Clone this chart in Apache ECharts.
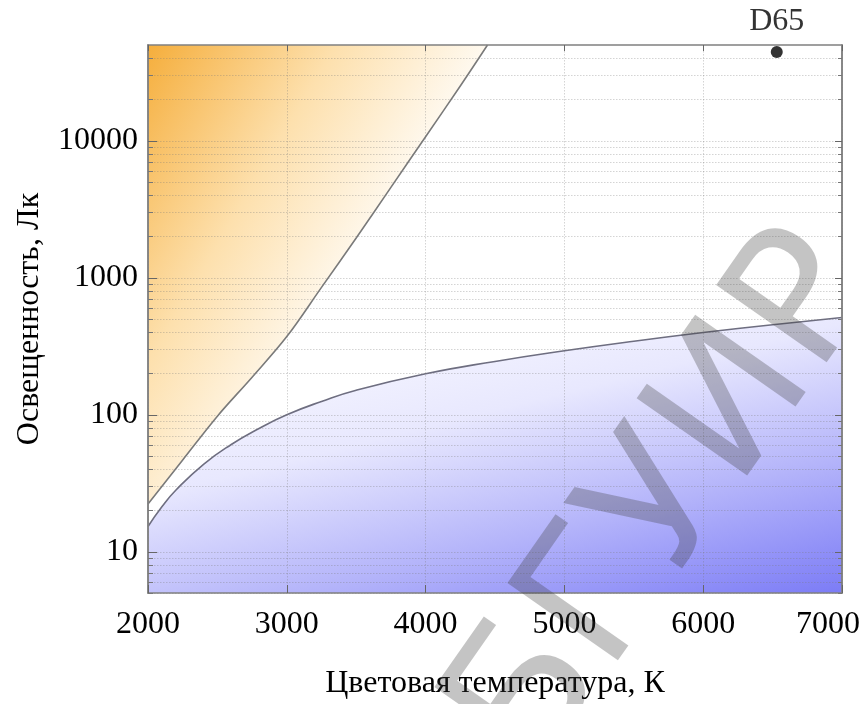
<!DOCTYPE html>
<html>
<head>
<meta charset="utf-8">
<script src="https://cdn.jsdelivr.net/npm/echarts@6/dist/echarts.min.js"></script>
<style>
  html, body { margin: 0; padding: 0; background: #fff; }
  #chart { width: 867px; height: 704px; }
</style>
</head>
<body>
<div id="chart"></div>
<script>
// верхняя граница (область "тёплого" света)
const upperT = [2000, 2250, 2500, 2750, 3000, 3250, 3500, 3750, 4000, 4250, 4446];
const upperLux = [22.3, 46.8, 97.7, 188, 372, 851, 1950, 4570, 10700, 25100, 50000];
// нижняя граница (область "холодного" света)
const lowerT = [2000, 2100, 2200, 2400, 2600, 2800, 3000, 3250, 3500, 4000, 4500, 5000, 5500, 6000, 6500, 7000];
const lowerLux = [15.3, 21.3, 28.1, 43.5, 60.7, 79.4, 100, 125, 151, 199, 245, 293, 344, 398, 454, 513];
// точка D65
const d65 = [6530, 44500];

const xTicks = [2000, 3000, 4000, 5000, 6000, 7000];
const yMajor = [10, 100, 1000, 10000];
const yMinor = [5, 6, 7, 8, 9, 20, 30, 40, 50, 60, 70, 80, 90,
    200, 300, 400, 500, 600, 700, 800, 900,
    2000, 3000, 4000, 5000, 6000, 7000, 8000, 9000,
    20000, 30000, 40000];

const serif = 'Liberation Serif';
const frame = { color: '#808080', width: 1.5 };
const dotted = { color: 'rgba(120,120,120,0.32)', width: 1, type: [1.5, 1.5] };

function zip(xs, ys) {
    return xs.map(function(x, i) { return [x, ys[i]]; });
}

function yAxisBase(position, extra) {
    return Object.assign({
        type: 'log',
        logBase: 10,
        min: 5,
        max: 50000,
        position: position,
        z: 5,
        axisLine: { show: true, lineStyle: frame },
        axisLabel: { show: false },
        splitLine: { show: false }
    }, extra);
}

function xAxisBase(position, extra) {
    return Object.assign({
        type: 'value',
        min: 2000,
        max: 7000,
        interval: 1000,
        position: position,
        z: 5,
        axisLine: { show: true, lineStyle: frame },
        axisLabel: { show: false },
        splitLine: { show: false }
    }, extra);
}

// последняя подпись оси X сдвинута влево, чтобы не выходить за край
function xLabel(v) {
    if (v === xTicks[xTicks.length - 1]) {
        return '{last|' + v + '}';
    }
    return String(v);
}

let chart = echarts.init(document.getElementById('chart'));
let option = {
    animation: false,
    backgroundColor: '#fff',
    grid: { left: 148, right: 25, top: 45, bottom: 111, outerBoundsMode: 'none', containLabel: false },
    xAxis: [
        xAxisBase('bottom', {
            name: 'Цветовая температура, К',
            nameLocation: 'middle',
            nameGap: 75,
            nameTextStyle: { fontFamily: serif, fontSize: 32, color: '#000' },
            axisTick: { inside: true, length: 8, lineStyle: { color: '#666' } },
            axisLabel: {
                show: true, fontFamily: serif, fontSize: 32, color: '#000', margin: 16,
                customValues: xTicks,
                formatter: xLabel,
                rich: {
                    last: { fontFamily: serif, fontSize: 32, color: '#000', padding: [0, 28, 0, 0] }
                }
            },
            splitLine: { show: true, lineStyle: dotted }
        }),
        xAxisBase('top', {
            axisTick: { inside: true, length: 6, lineStyle: { color: '#666' } }
        })
    ],
    yAxis: [
        yAxisBase('left', {
            name: 'Освещенность, Лк',
            nameLocation: 'middle',
            nameGap: 102,
            nameTextStyle: { fontFamily: serif, fontSize: 32, color: '#000' },
            axisTick: { inside: true, length: 9, customValues: yMajor, lineStyle: { color: '#666' } },
            axisLabel: { show: true, fontFamily: serif, fontSize: 32, color: '#000', margin: 10,
                customValues: yMajor, formatter: function(v) { return String(Math.round(v)); } },
            splitLine: { show: true, lineStyle: dotted }
        }),
        yAxisBase('left', {
            axisTick: { inside: true, length: 5, customValues: yMinor, lineStyle: { color: '#777' } },
            splitLine: { show: true, lineStyle: dotted }
        }),
        yAxisBase('right', {
            axisTick: { inside: true, length: 7, customValues: yMajor, lineStyle: { color: '#666' } }
        }),
        yAxisBase('right', {
            axisTick: { inside: true, length: 4, customValues: yMinor, lineStyle: { color: '#777' } }
        })
    ],
    series: [
        {
            type: 'line',
            data: zip(upperT, upperLux),
            smooth: 0.35,
            symbol: 'none',
            z: 2,
            lineStyle: { color: '#7a7a7a', width: 1.6 },
            areaStyle: {
                origin: 'end',
                opacity: 1,
                color: new echarts.graphic.LinearGradient(0, 0, 0.82, 0.36, [
                    { offset: 0, color: '#f5ae3c' },
                    { offset: 0.5, color: '#fde0ad' },
                    { offset: 1, color: '#ffffff' }
                ])
            }
        },
        {
            type: 'line',
            data: zip(lowerT, lowerLux),
            smooth: 0.5,
            symbol: 'none',
            z: 2,
            lineStyle: { color: '#6e6e80', width: 1.6 },
            areaStyle: {
                origin: 'start',
                opacity: 1,
                color: new echarts.graphic.LinearGradient(0, 0, 0.152, 1.533, [
                    { offset: 0, color: '#ffffff' },
                    { offset: 0.4, color: '#e8e8fe' },
                    { offset: 0.7, color: '#b4b4fa' },
                    { offset: 1, color: '#7c7cf6' }
                ])
            }
        },
        {
            type: 'scatter',
            data: [d65],
            symbolSize: 12,
            z: 6,
            itemStyle: { color: '#000' },
            label: {
                show: true,
                formatter: 'D65',
                position: 'top',
                distance: 8,
                fontFamily: serif,
                fontSize: 32,
                color: '#000'
            }
        }
    ],
    graphic: [{
        type: 'text',
        x: 668,
        y: 505,
        rotation: 0.96,
        z: 100,
        silent: true,
        style: {
            text: 'БГУИР',
            font: '185px "DejaVu Sans"',
            fill: 'rgba(60,60,60,0.3)',
            align: 'center',
            verticalAlign: 'middle'
        }
    }]
};
chart.setOption(option);
</script>
</body>
</html>
